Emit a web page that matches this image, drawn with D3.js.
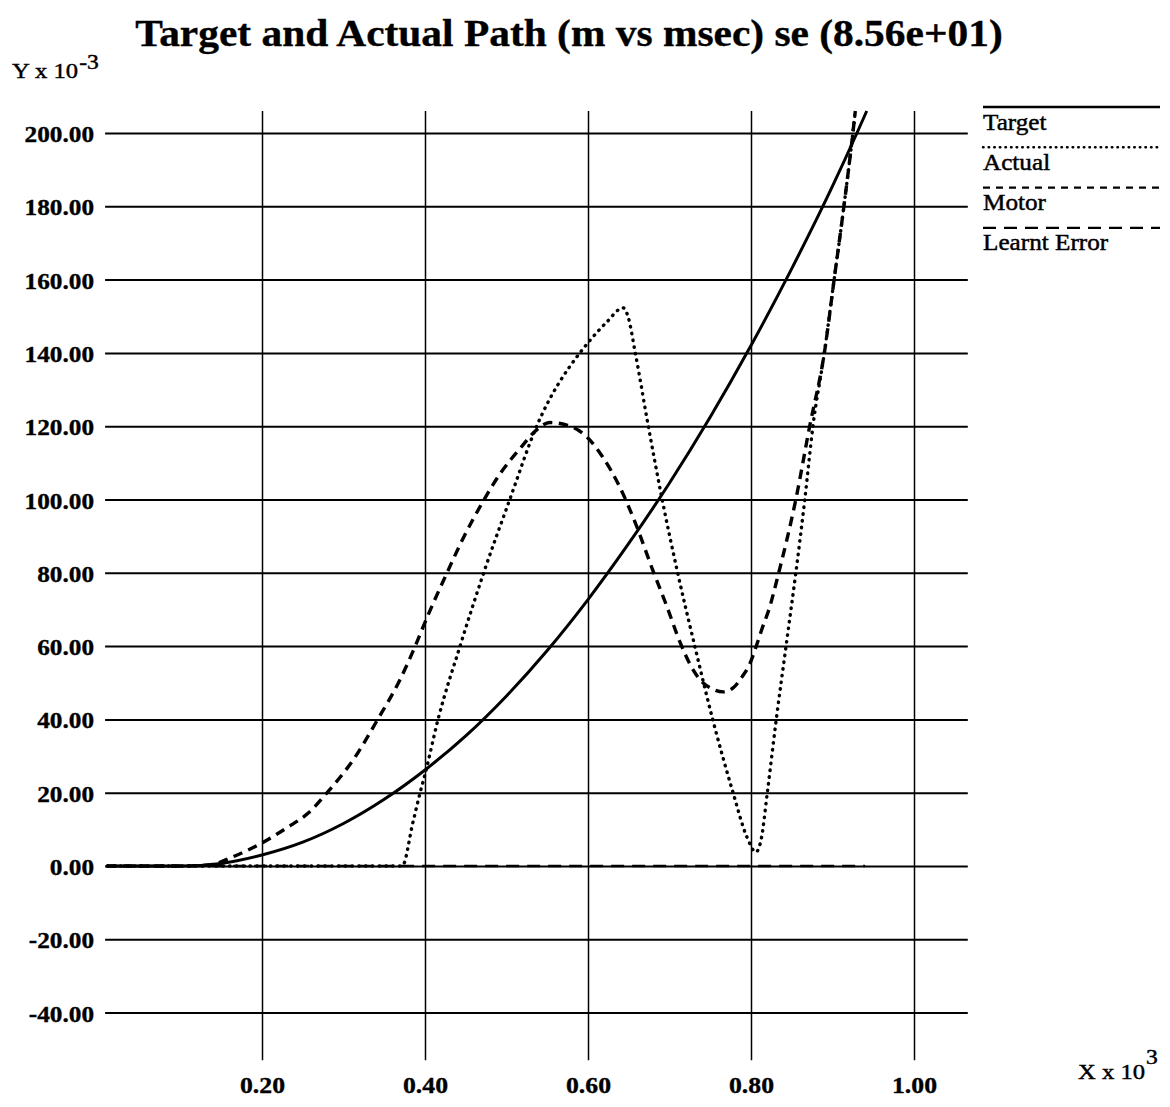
<!DOCTYPE html>
<html>
<head>
<meta charset="utf-8">
<script src="https://cdn.jsdelivr.net/npm/d3@7"></script>
<style>
  html, body { margin: 0; padding: 0; background: #fff; }
  svg { display: block; }
</style>
</head>
<body>
<svg id="chart" width="1170" height="1107"></svg>
<script>
// ---- data (x in units of 10^3 msec, y in units of 10^-3 m) ----
const xTicks = [0.2, 0.4, 0.6, 0.8, 1.0];
const yTicks = [-40, -20, 0, 20, 40, 60, 80, 100, 120, 140, 160, 180, 200];
const seriesNames = ["Target", "Actual", "Motor", "Learnt Error"];

const targetPath = [
  [0.01, 0], [0.05, 0], [0.10, 0], [0.15, 0.7], [0.20, 3.0], [0.25, 6.5],
  [0.30, 11.6], [0.35, 18.2], [0.40, 26.2], [0.45, 35.5], [0.50, 46.4],
  [0.55, 58.8], [0.60, 72.7], [0.65, 88], [0.70, 104.5], [0.75, 122.5],
  [0.80, 142], [0.85, 163], [0.90, 185.5], [0.93, 200], [0.942, 206]
];

const actualPath = [
  [0.01, 0], [0.30, 0], [0.372, 0], [0.385, 11.7], [0.394, 20], [0.400, 25],
  [0.416, 40], [0.443, 60], [0.472, 80], [0.504, 100], [0.537, 120],
  [0.590, 140], [0.599, 142.5], [0.623, 148.4], [0.643, 152.3], [0.649, 150],
  [0.658, 140], [0.674, 120], [0.691, 100], [0.710, 80], [0.731, 60],
  [0.753, 40], [0.778, 20], [0.795, 7.9], [0.806, 3.8], [0.813, 7.9],
  [0.820, 20], [0.831, 40], [0.843, 60], [0.855, 80], [0.866, 100],
  [0.876, 120], [0.890, 140], [0.902, 160], [0.914, 180], [0.925, 200],
  [0.928, 206]
];

const motorPath = [
  [0.01, 0], [0.10, 0], [0.136, 0.3], [0.164, 2.5], [0.200, 6.3], [0.231, 10.5],
  [0.256, 14.3], [0.281, 20.3], [0.312, 29], [0.342, 40], [0.369, 50.7],
  [0.388, 60], [0.400, 66.5], [0.427, 80], [0.447, 89.5], [0.470, 99],
  [0.492, 107], [0.517, 114], [0.537, 119], [0.553, 121], [0.574, 120.3],
  [0.599, 117], [0.618, 111.6], [0.639, 103.4], [0.660, 92.5], [0.679, 81],
  [0.697, 70.7], [0.713, 61], [0.729, 53.5], [0.741, 50], [0.750, 48.6],
  [0.766, 47.5], [0.778, 48.6], [0.789, 51.6], [0.799, 55.4], [0.805, 59],
  [0.813, 64.4], [0.823, 70.7], [0.834, 80], [0.855, 100], [0.872, 120],
  [0.890, 140], [0.902, 160], [0.914, 180], [0.925, 200], [0.928, 206]
];

const learntErrorPath = [[0.01, 0], [0.40, 0], [0.94, 0]];

// ---- layout ----
const svg = d3.select("#chart");
const serif = "'Liberation Serif', 'Times New Roman', Times, serif";
const SX = 1.12;           // horizontal stretch of the type face

const x = d3.scaleLinear().domain([0, 1]).range([99, 914]);
const y = d3.scaleLinear().domain([0, 200]).range([866, 133]);

const gridLeft = x(0.0075), gridRight = x(1.066);
const gridTop = y(206), gridBottom = y(-53);

// stretched text helper
function label(parent, str, px, py, opts = {}) {
  const g = parent.append("g")
    .attr("transform", `translate(${px},${py}) scale(${opts.sx || SX},1)`);
  return g.append("text")
    .attr("x", 0).attr("y", 0)
    .attr("text-anchor", opts.anchor || "start")
    .attr("font-family", serif)
    .attr("font-size", opts.size || 22)
    .attr("font-weight", opts.bold ? "bold" : "normal")
    .attr("fill", "#000")
    .attr("stroke", "#000")
    .attr("stroke-width", opts.bold ? 0.35 : 0.45)
    .text(str);
}

// ---- title ----
label(svg, "Target and Actual Path (m vs msec) se (8.56e+01)", 569, 46,
      { anchor: "middle", size: 38, bold: true, sx: 1.09 });

// ---- horizontal grid + y tick labels ----
const yAxis = d3.axisLeft(y)
  .tickValues(yTicks)
  .tickSizeInner(-(gridRight - gridLeft))
  .tickSizeOuter(0)
  .tickPadding(12)
  .tickFormat(d => d.toFixed(2));

const gy = svg.append("g")
  .attr("transform", `translate(${gridLeft},0)`)
  .call(yAxis);
gy.select(".domain").remove();
gy.selectAll(".tick line").attr("stroke", "#000").attr("stroke-width", 2);
gy.selectAll(".tick text").each(function () {
  d3.select(this)
    .attr("x", 0).attr("y", 0).attr("dy", null)
    .attr("transform", `translate(-11,8.5) scale(1.1,1)`)
    .attr("font-family", serif).attr("font-size", 23)
    .attr("font-weight", "bold").attr("fill", "#000")
    .attr("stroke", "#000").attr("stroke-width", 0.35);
});

// ---- vertical grid + x tick labels ----
const xAxis = d3.axisBottom(x)
  .tickValues(xTicks)
  .tickSizeInner(-(gridBottom - gridTop))
  .tickSizeOuter(0)
  .tickPadding(0)
  .tickFormat(d => d.toFixed(2));

const gx = svg.append("g")
  .attr("transform", `translate(0,${gridBottom})`)
  .call(xAxis);
gx.select(".domain").remove();
gx.selectAll(".tick line").attr("stroke", "#000").attr("stroke-width", 1.5);
gx.selectAll(".tick text").each(function () {
  d3.select(this)
    .attr("x", 0).attr("y", 0).attr("dy", null)
    .attr("transform", `translate(0,33) scale(${SX},1)`)
    .attr("text-anchor", "middle")
    .attr("font-family", serif).attr("font-size", 23)
    .attr("font-weight", "bold").attr("fill", "#000")
    .attr("stroke", "#000").attr("stroke-width", 0.35);
});

// ---- axis unit labels ----
function unitLabel(base, sup, px, py, supDy) {
  const t = label(svg, base, px, py, { size: 22 });
  const w = t.node().getComputedTextLength() * SX;
  label(svg, sup, px + w + 1, py + supDy, { size: 21 });
}
unitLabel("Y x 10", "-3", 12, 78, -9);
unitLabel("X x 10", "3", 1078, 1079, -15);

// ---- series ----
const line = d3.line()
  .x(d => x(d[0]))
  .y(d => y(d[1]))
  .curve(d3.curveMonotoneX);

const styles = {
  "Target":       { data: targetPath,      width: 3.0, dash: null,      cap: "butt" },
  "Actual":       { data: actualPath,      width: 3.4, dash: "0.5 6.3", cap: "round" },
  "Motor":        { data: motorPath,       width: 3.4, dash: "9.5 6.5", cap: "butt" },
  "Learnt Error": { data: learntErrorPath, width: 2.6, dash: "13 8",    cap: "butt" }
};

const plot = svg.append("g");
seriesNames.forEach(name => {
  const s = styles[name];
  plot.append("path")
    .datum(s.data)
    .attr("fill", "none")
    .attr("stroke", "#000")
    .attr("stroke-width", s.width)
    .attr("stroke-linecap", s.cap)
    .attr("stroke-linejoin", "round")
    .attr("stroke-dasharray", s.dash)
    .attr("d", line);
});

// ---- legend ----
const legendStyles = {
  "Target":       { width: 2.3, dash: null,    cap: "butt" },
  "Actual":       { width: 2.4, dash: "0.6 5", cap: "round" },
  "Motor":        { width: 2.3, dash: "7 6",   cap: "butt" },
  "Learnt Error": { width: 2.3, dash: "13 8",  cap: "butt" }
};
const legX0 = 983, legX1 = 1160, legY0 = 107, legStep = 40.3;
seriesNames.forEach((name, i) => {
  const ly = legY0 + i * legStep;
  const s = legendStyles[name];
  svg.append("line")
    .attr("x1", legX0).attr("x2", legX1)
    .attr("y1", ly).attr("y2", ly)
    .attr("stroke", "#000")
    .attr("stroke-width", s.width)
    .attr("stroke-linecap", s.cap)
    .attr("stroke-dasharray", s.dash);
  label(svg, name, legX0, ly + 22.5, { size: 22.5 });
});
</script>
</body>
</html>
